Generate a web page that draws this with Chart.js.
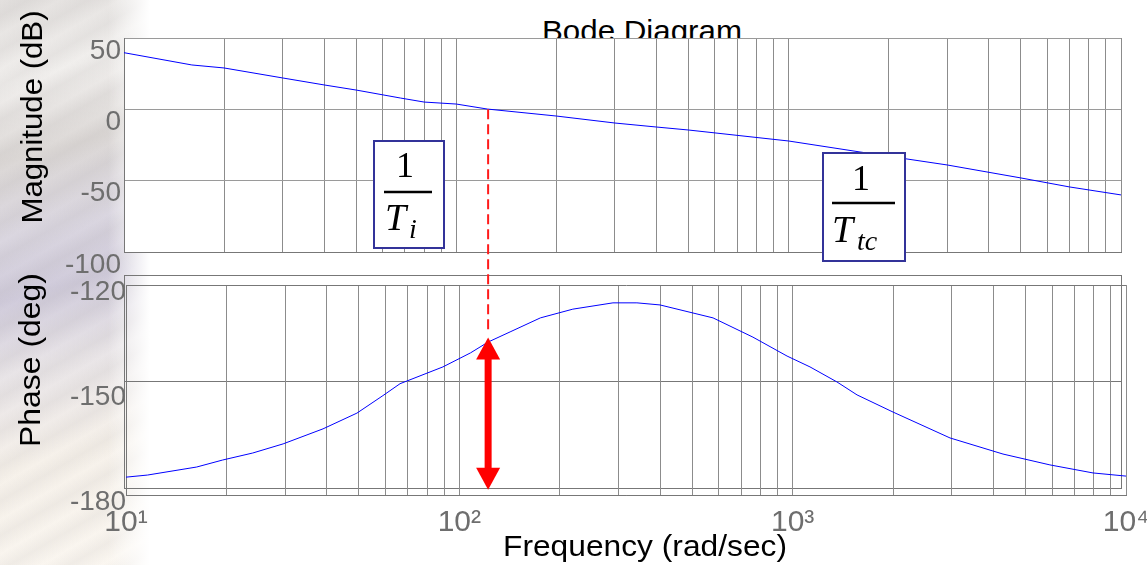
<!DOCTYPE html>
<html>
<head>
<meta charset="utf-8">
<title>Bode Diagram</title>
<script src="https://cdn.jsdelivr.net/npm/chart.js@4/dist/chart.umd.min.js"></script>
<style>
  html, body { margin: 0; padding: 0; background: #fff; }
  #stage { position: relative; width: 1147px; height: 565px; overflow: hidden; }
  #stage canvas, #stage svg, #texture { position: absolute; left: 0; top: 0; }
  #texture {
    width: 150px; height: 565px;
    background:
      linear-gradient(to right, rgba(255,255,255,0) 0%, rgba(255,255,255,0) 72%, #fff 100%),
      repeating-linear-gradient(150deg, rgba(150,145,145,0) 0px, rgba(150,145,145,0.10) 14px, rgba(150,145,145,0) 30px),
      linear-gradient(165deg, #e3e0de 0%, #f1efed 14%, #dcd8d6 27%, #dad6e0 40%, #d0cbdb 50%, #e8e4e7 62%, #f6f1ea 78%, #fbf7f1 100%);
  }
  svg text { font-family: "Liberation Sans", Arial, sans-serif; fill: #000; }
  svg .frac { font-family: "Liberation Serif", "Times New Roman", serif; }
  #over { pointer-events: none; }
</style>
</head>
<body>
<div id="stage">
  <div id="texture"></div>
  <svg id="under" width="1147" height="565">
    <text x="642" y="41" text-anchor="middle" font-size="29" textLength="200" lengthAdjust="spacingAndGlyphs">Bode Diagram</text>
  </svg>
  <canvas id="magChart" width="1147" height="565"></canvas>
  <canvas id="phaseFrame" width="1147" height="565"></canvas>
  <canvas id="phaseChart" width="1147" height="565"></canvas>
  <svg id="over" width="1147" height="565">
    <text transform="translate(42,117) rotate(-90)" text-anchor="middle" font-size="29" textLength="213" lengthAdjust="spacingAndGlyphs">Magnitude (dB)</text>
    <text transform="translate(40,360) rotate(-90)" text-anchor="middle" font-size="30" textLength="174" lengthAdjust="spacingAndGlyphs">Phase (deg)</text>
    <text x="645" y="556" text-anchor="middle" font-size="30" textLength="284" lengthAdjust="spacingAndGlyphs">Frequency (rad/sec)</text>

    <g class="frac">
      <rect x="374" y="141" width="70" height="107" fill="#fff" stroke="#333399" stroke-width="2"/>
      <text class="frac" x="405" y="177" text-anchor="middle" font-size="36">1</text>
      <line x1="384" x2="432" y1="192" y2="192" stroke="#000" stroke-width="2.5"/>
      <text class="frac" x="385" y="230" font-size="38" font-style="italic">T</text>
      <text class="frac" x="409" y="238" font-size="28" font-style="italic">i</text>

      <rect x="823" y="153" width="82" height="108" fill="#fff" stroke="#333399" stroke-width="2"/>
      <text class="frac" x="861" y="190" text-anchor="middle" font-size="36">1</text>
      <line x1="832" x2="895" y1="203" y2="203" stroke="#000" stroke-width="2.5"/>
      <text class="frac" x="832" y="242" font-size="38" font-style="italic">T</text>
      <text class="frac" x="857" y="250" font-size="28" font-style="italic">tc</text>
    </g>
  </svg>
</div>
<script>
const W = 1147, H = 565;

// magnitude response, dB
const magFreq = [10, 16, 20, 30, 40, 50, 68, 80, 100, 124, 200, 300, 400, 500, 1000, 1640, 3000, 5000, 7000, 10000];
const magDb = [39.7, 31.1, 29.0, 22.0, 17.1, 13.5, 7.9, 5.1, 3.7, 0.2, -4.7, -9.6, -12.4, -14.5, -22.2, -29.9, -39.0, -48.1, -54.4, -60.0];

// phase response, degrees
const phaseFreq = [10, 11.6, 16.3, 19.5, 24, 29.6, 39, 49.3, 59, 66.4, 89.3, 108, 122, 142, 175, 219, 289, 341, 400,
  577, 760, 962, 1127, 1358, 1560, 2000, 2582, 2965, 4276, 5912, 7962, 10000];
const phaseDeg = [-174.9, -174.3, -172.0, -170.0, -168.0, -165.4, -161.1, -156.6, -151.6, -148.2, -143.4, -139.4, -136.3,
  -133.4, -129.4, -126.9, -125.1, -125.1, -125.7, -129.4, -134.9, -140.3, -143.4, -147.7, -151.4, -156.3, -161.1,
  -163.7, -168.3, -171.4, -173.7, -174.6];

const magTicks = [-100, -50, 0, 50];
const phaseTicks = [-180, -150, -120];
const decades = [10, 100, 1000, 10000];
const decadeLabels = ['10¹', '10²', '10³', '10⁴'];

// gain crossover and the phase margin arrow under it
const crossoverFreq = 122;
const marginArrow = [-135, -178.5];

const gridColor = '#8c8c8c';
const frameColor = '#777';
const tickColor = '#6e6e6e';
const tickFont = { family: 'Liberation Sans', size: 28 };

function toPoints(xs, ys) {
  return xs.map((x, i) => ({ x: x, y: ys[i] }));
}

// 1..9 x 10^n lines across the three decades
function logGrid(scale) {
  const ticks = [];
  for (let d = 10; d < 10000; d *= 10) {
    for (let m = 1; m < 10; m++) ticks.push({ value: m * d });
  }
  ticks.push({ value: 10000 });
  scale.ticks = ticks;
}

function fixedTicks(values) {
  return scale => { scale.ticks = values.map(v => ({ value: v })); };
}

// fixed axis size, and no room reserved for overhanging labels
function fixedHeight(h) {
  return s => { s.height = h; s.paddingLeft = 0; s.paddingRight = 0; };
}

const whiteArea = {
  id: 'whiteArea',
  beforeDraw(chart) {
    const a = chart.chartArea;
    chart.ctx.save();
    chart.ctx.fillStyle = '#fff';
    chart.ctx.fillRect(a.left, a.top, a.width, a.height);
    chart.ctx.restore();
  }
};

const baseOptions = {
  responsive: false,
  animation: false,
  devicePixelRatio: 1,
  plugins: { legend: { display: false }, tooltip: { enabled: false } }
};

const magChart = new Chart(document.getElementById('magChart'), {
  type: 'line',
  data: {
    datasets: [{
      data: toPoints(magFreq, magDb),
      borderColor: '#0000ff',
      borderWidth: 1,
      pointRadius: 0,
      tension: 0
    }]
  },
  options: {
    ...baseOptions,
    layout: { padding: { left: 0, top: 38, right: W - 1121, bottom: H - 252 } },
    scales: {
      x: {
        type: 'logarithmic', min: 10, max: 10000,
        afterBuildTicks: logGrid,
        afterFit: fixedHeight(0),
        ticks: { display: false, autoSkip: false },
        grid: { color: gridColor, drawTicks: false },
        border: { color: frameColor }
      },
      y: {
        min: -100, max: 50,
        afterBuildTicks: fixedTicks(magTicks),
        afterFit: s => { s.width = 124; },
        ticks: { font: tickFont, color: tickColor, padding: 3, labelOffset: 13 },
        grid: { color: '#9a9a9a', drawTicks: false },
        border: { color: frameColor }
      }
    }
  },
  plugins: [whiteArea]
});

// outer box of the phase panel
new Chart(document.getElementById('phaseFrame'), {
  type: 'line',
  data: { datasets: [] },
  options: {
    ...baseOptions,
    layout: { padding: { left: 0, top: 275, right: W - 1121, bottom: H - 488 } },
    scales: {
      x: {
        type: 'logarithmic', min: 10, max: 10000,
        afterBuildTicks: fixedTicks([10, 10000]),
        afterFit: fixedHeight(0),
        ticks: { display: false, autoSkip: false },
        grid: { color: frameColor, drawTicks: false },
        border: { color: frameColor }
      },
      y: {
        min: -180, max: -120,
        afterBuildTicks: fixedTicks(phaseTicks),
        afterFit: s => { s.width = 124; },
        ticks: { display: false },
        grid: { color: frameColor, drawTicks: false },
        border: { color: frameColor }
      }
    }
  }
});

const marginMarker = {
  id: 'marginMarker',
  afterDraw(chart) {
    const ctx = chart.ctx;
    const x = chart.scales.x.getPixelForValue(crossoverFreq);
    const yTop = chart.scales.y.getPixelForValue(marginArrow[0]);
    const yBot = chart.scales.y.getPixelForValue(marginArrow[1]);
    const y0 = magChart.scales.y.getPixelForValue(0);
    const head = 22, half = 12;
    ctx.save();
    ctx.strokeStyle = '#ff1a1a';
    ctx.lineWidth = 2;
    ctx.setLineDash([10, 5]);
    ctx.beginPath();
    ctx.moveTo(x, y0);
    ctx.lineTo(x, yTop - 5);
    ctx.stroke();
    ctx.setLineDash([]);
    ctx.fillStyle = '#ff0000';
    ctx.fillRect(x - 3.5, yTop + head - 1, 7, yBot - yTop - 2 * head + 2);
    ctx.beginPath();
    ctx.moveTo(x, yTop);
    ctx.lineTo(x - half, yTop + head);
    ctx.lineTo(x + half, yTop + head);
    ctx.closePath();
    ctx.fill();
    ctx.beginPath();
    ctx.moveTo(x, yBot);
    ctx.lineTo(x - half, yBot - head);
    ctx.lineTo(x + half, yBot - head);
    ctx.closePath();
    ctx.fill();
    ctx.restore();
  }
};

new Chart(document.getElementById('phaseChart'), {
  type: 'line',
  data: {
    datasets: [{
      data: toPoints(phaseFreq, phaseDeg),
      borderColor: '#0000ff',
      borderWidth: 1,
      pointRadius: 0,
      tension: 0
    }]
  },
  options: {
    ...baseOptions,
    layout: { padding: { left: 0, top: 285, right: W - 1126, bottom: 0 } },
    scales: {
      x: {
        type: 'logarithmic', min: 10, max: 10000,
        afterBuildTicks: logGrid,
        afterFit: fixedHeight(H - 495),
        ticks: {
          font: { family: 'Liberation Sans', size: 30 },
          color: tickColor,
          padding: 10,
          autoSkip: false,
          maxRotation: 0,
          minRotation: 0,
          callback: v => {
            const i = decades.indexOf(v);
            return i < 0 ? '' : decadeLabels[i];
          }
        },
        grid: { color: gridColor, drawTicks: false },
        border: { color: frameColor }
      },
      y: {
        min: -180, max: -120,
        afterBuildTicks: fixedTicks(phaseTicks),
        afterFit: s => { s.width = 126; s.paddingTop = 0; s.paddingBottom = 0; },
        ticks: { font: tickFont, color: tickColor, padding: 0, labelOffset: 7 },
        grid: {
          color: c => (c.tick && c.tick.value === -150 ? 'rgba(0,0,0,0)' : frameColor),
          drawTicks: false
        },
        border: { color: frameColor }
      }
    }
  },
  plugins: [marginMarker]
});
</script>
</body>
</html>
